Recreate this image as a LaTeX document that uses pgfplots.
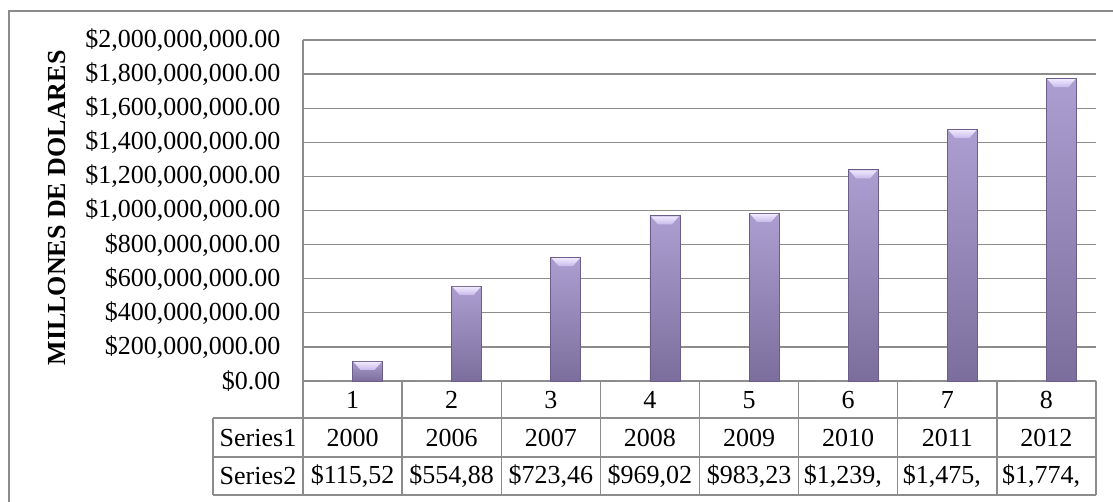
\documentclass[border=0pt]{standalone}
\usepackage{pgfplots}
\pgfplotsset{compat=1.18}
\usepackage{fontspec}
\setmainfont{Liberation Serif}
\definecolor{gridgray}{RGB}{140,140,140}
\definecolor{barTop}{RGB}{172,158,208}
\definecolor{barBot}{RGB}{124,110,156}
\definecolor{barEdge}{RGB}{108,94,138}
\definecolor{bevelTop}{RGB}{238,232,253}
\definecolor{bevelBot}{RGB}{200,186,236}
\newcommand{\fs}{\fontsize{26}{30}\selectfont}
\newcommand{\bevelpic}{\tikz\shade[draw=none, line width=0pt, top color=bevelTop, bottom color=bevelBot] (0pt,0pt)--(28pt,0pt)--(21pt,-8pt)--(7pt,-8pt)--cycle;}
\pgfplotsset{s2/.style={draw=barEdge, line width=0.8pt, top color=barTop, bottom color=barBot, bar shift=15pt,
  nodes near coords={\bevelpic},
  every node near coord/.style={inner sep=0pt, outer sep=0pt, anchor=north, xshift=15pt, yshift=-0.6pt, draw=none}}}
\begin{document}
\begin{tikzpicture}[x=1pt,y=1pt]
\useasboundingbox (0,0) rectangle (1113,502);
\draw[gridgray, line width=1.3pt] (9,-10) -- (9,491) -- (1125,491);
\begin{axis}[
  at={(303pt,121pt)}, anchor=south west,
  scale only axis, width=793pt, height=341pt,
  xmin=0.5, xmax=8.5, ymin=0, ymax=2000000000,
  clip=false, scaled y ticks=false,
  axis x line*=bottom, axis y line*=left,
  axis line style={gridgray, line width=1.3pt, -},
  ymajorgrids, grid style={gridgray, line width=1.3pt},
  major tick length=0pt,
  xtick=\empty,
  ytick={0,200000000,400000000,600000000,800000000,1000000000,1200000000,1400000000,1600000000,1800000000,2000000000},
  yticklabels={{\$0.00},{\$200,000,000.00},{\$400,000,000.00},{\$600,000,000.00},{\$800,000,000.00},{\$1,000,000,000.00},{\$1,200,000,000.00},{\$1,400,000,000.00},{\$1,600,000,000.00},{\$1,800,000,000.00},{\$2,000,000,000.00}},
  yticklabel style={font=\fs, xshift=-19pt},
  ybar, bar width=30pt,
]
% Series1 (years, invisible at this scale)
\addplot[draw=none, fill=barTop, bar shift=-15pt] coordinates {
 (1,2000) (2,2006) (3,2007) (4,2008) (5,2009) (6,2010) (7,2011) (8,2012)};
% Series2
\addplot[s2] coordinates {(1,115520000)};
\addplot[s2] coordinates {(2,554880000)};
\addplot[s2] coordinates {(3,723460000)};
\addplot[s2] coordinates {(4,969020000)};
\addplot[s2] coordinates {(5,983230000)};
\addplot[s2] coordinates {(6,1239000000)};
\addplot[s2] coordinates {(7,1475000000)};
\addplot[s2] coordinates {(8,1774000000)};
\end{axis}
% data table
\foreach \k in {0,...,8} {
  \draw[gridgray, line width=1.3pt] ({303+99.125*\k},121) -- ({303+99.125*\k},7);
}
\draw[gridgray, line width=1.3pt] (213,84) -- (1096,84);
\draw[gridgray, line width=1.3pt] (213,45) -- (1096,45);
\draw[gridgray, line width=1.3pt] (213,7) -- (1096,7);
\draw[gridgray, line width=1.3pt] (213,84) -- (213,7);
\foreach \t [count=\i] in {1,2,3,4,5,6,7,8} {
  \node[font=\fs, inner sep=0pt] at ({303+99.125*(\i-0.5)},102) {\t};
}
\foreach \t [count=\i] in {2000,2006,2007,2008,2009,2010,2011,2012} {
  \node[font=\fs, inner sep=0pt] at ({303+99.125*(\i-0.5)},64) {\t};
}
\foreach \t [count=\i] in {{\$115,52},{\$554,88},{\$723,46},{\$969,02},{\$983,23}} {
  \node[font=\fs, inner sep=0pt] at ({303+99.125*(\i-0.5)},26) {\t};
}
\foreach \t [count=\i from 6] in {{\$1,239,},{\$1,475,},{\$1,774,}} {
  \node[font=\fs, inner sep=0pt, anchor=west] at ({303+99.125*(\i-1)+5},26) {\t};
}
\node[font=\fs, inner sep=0pt] at (258,64) {Series1};
\node[font=\fs, inner sep=0pt] at (258,26) {Series2};
\node[font=\fs\bfseries, rotate=90, inner sep=0pt] at (57,294) {MILLONES DE DOLARES};
\end{tikzpicture}
\end{document}
